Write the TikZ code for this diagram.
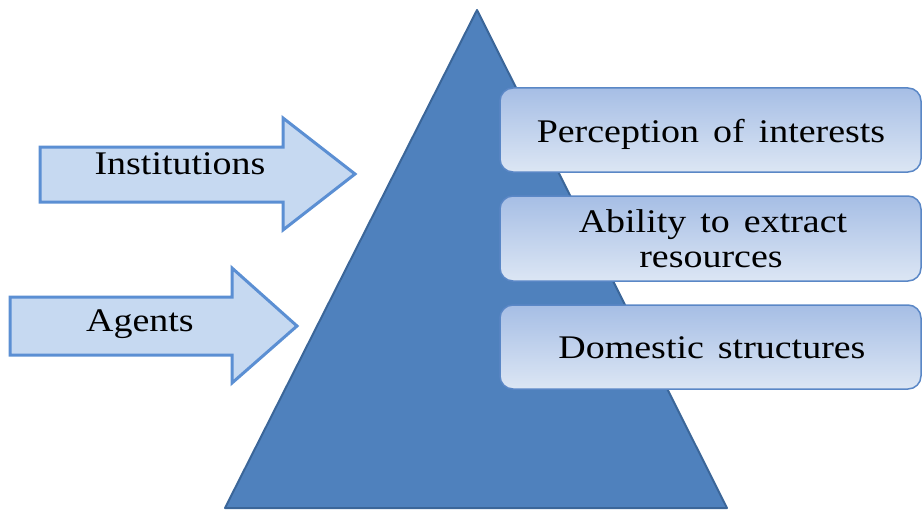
\documentclass[tikz,border=0pt]{standalone}
\usepackage{fontspec}
\setmainfont{Liberation Serif}
\definecolor{trifill}{HTML}{4F81BD}
\definecolor{tridraw}{HTML}{3B6699}
\definecolor{arrfill}{HTML}{C6D9F1}
\definecolor{arrdraw}{HTML}{5B8FD3}
\definecolor{boxtop}{HTML}{A6BEE5}
\definecolor{boxbot}{HTML}{DCE6F4}
\definecolor{boxdraw}{HTML}{5A87C6}
\newcommand{\wtxt}[1]{\scalebox{1.15}[1]{\fontsize{33}{39}\selectfont #1}}
\tikzset{
  tri/.style={fill=trifill, draw=tridraw, line width=2pt, line join=round},
  arr/.style={fill=arrfill, draw=arrdraw, line width=3pt, line join=miter},
  rbox/.style={top color=boxtop, bottom color=boxbot, draw=boxdraw, line width=1.5pt, rounded corners=13pt},
  lbl/.style={inner sep=0pt, anchor=base, text=black}
}
\begin{document}
\begin{tikzpicture}[x=1pt,y=-1pt]
\useasboundingbox (0,0) rectangle (924,511);
% pyramid
\coordinate (apex) at (477,10);
\coordinate (bl) at (225,508);
\coordinate (br) at (727,508);
\draw[tri] (apex) -- (br) -- (bl) -- cycle;
% arrows
\draw[arr] (40,147) -- (283,147) -- (283,118) -- (355,174) -- (283,230) -- (283,202) -- (40,202) -- cycle;
\draw[arr] (10,297) -- (232,297) -- (232,268) -- (297,326) -- (232,383) -- (232,355) -- (10,355) -- cycle;
\node[lbl] (inst) at (180,174) {\wtxt{Institutions}};
\node[lbl] (agents) at (140,331) {\wtxt{Agents}};
% boxes
\draw[rbox] (500,88) rectangle (921,172);
\draw[rbox] (500,196) rectangle (921,281);
\draw[rbox] (500,305) rectangle (921,389);
\node[lbl] (perc) at (711,142) {\wtxt{Perception\hspace{0.12em} of\hspace{0.12em} interests}};
\node[lbl] (abil) at (713,232) {\wtxt{Ability\hspace{0.12em} to\hspace{0.12em} extract}};
\node[lbl] (res) at (711,267) {\wtxt{resources}};
\node[lbl] (dom) at (712,358) {\wtxt{Domestic\hspace{0.12em} structures}};
\end{tikzpicture}
\end{document}
